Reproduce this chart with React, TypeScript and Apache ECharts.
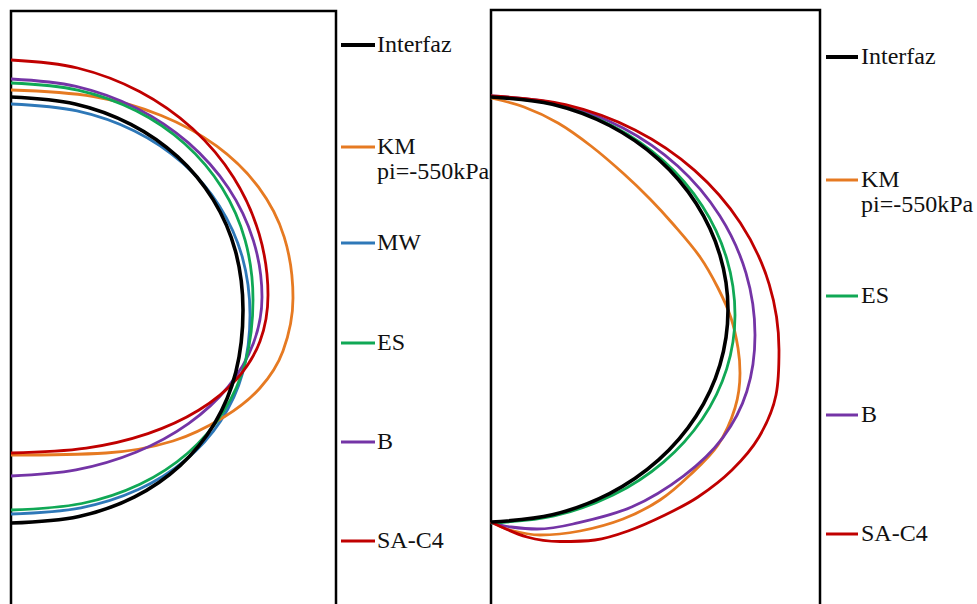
import React, { useEffect, useRef } from "react";
import * as echarts from "echarts";

// ---------- DATA (x to the right, y downward; arbitrary length units) ----------
// Left panel
const leftInterfaz = [[0,8.6],[6.41,9.29],[11.99,11.33],[16.68,14.59],[20.23,18.89],[22.45,24.02],[23.2,29.9],[22.48,36.13],[20.36,41.24],[16.93,45.44],[12.36,48.59],[6.79,50.54],[0,51.2]];
const leftKM = [[0,7.9],[8.25,8.55],[15.02,10.45],[20.58,13.52],[24.75,17.62],[27.32,22.61],[28.2,28.7],[27.2,34.0],[24.9,37.7],[21.3,40.6],[16.2,43.0],[9.5,44.2],[0,44.4]];
const leftMW = [[0,9.3],[6.6,9.99],[12.35,12.0],[17.18,15.23],[20.84,19.49],[23.12,24.57],[23.9,30.4],[23.16,36.22],[20.97,41.0],[17.44,44.92],[12.73,47.86],[7.0,49.68],[0,50.3]];
const leftES = [[0,7.2],[6.68,7.91],[12.51,9.98],[17.4,13.3],[21.1,17.68],[23.41,22.91],[24.2,28.9],[23.45,35.05],[21.24,40.08],[17.66,44.23],[12.89,47.33],[7.08,49.25],[0,49.9]];
const leftB = [[0,6.8],[6.5,7.54],[12.55,9.72],[17.75,13.19],[21.74,17.7],[24.24,22.96],[25.1,28.6],[24.24,33.23],[21.74,37.55],[17.75,41.26],[12.55,44.1],[6.5,45.89],[0,46.5]];
const leftSAC4 = [[0,4.9],[6.65,5.7],[12.85,8.05],[18.17,11.78],[22.26,16.65],[24.82,22.32],[25.7,28.4],[24.9,33.02],[22.55,36.82],[18.76,39.93],[13.69,42.26],[7.52,43.71],[0,44.2]];

// Right panel
const rightInterfaz = [[0,8.7],[6.13,9.43],[11.85,11.55],[16.76,14.94],[20.52,19.35],[22.89,24.49],[23.7,30.0],[22.89,35.49],[20.52,40.6],[16.76,44.99],[11.85,48.36],[6.13,50.48],[0,51.2]];
const rightKM = [[0,8.8],[3.3,9.7],[6.7,11.3],[10.0,13.6],[13.3,16.4],[15.9,18.9],[18.2,21.4],[20.9,24.7],[22.7,27.8],[24.0,30.8],[24.7,33.8],[24.9,36.3],[24.4,39.8],[22.7,43.5],[19.9,46.5],[16.9,49.0],[13.2,50.9],[8.9,52.1],[4.9,52.5],[1.9,52.0],[0,51.2]];
const rightES = [[0,8.7],[6.31,9.44],[12.2,11.62],[17.25,15.09],[21.13,19.6],[23.57,24.86],[24.4,30.5],[23.57,35.88],[21.13,40.9],[17.25,45.21],[12.2,48.51],[6.31,50.59],[0,51.3]];
const rightB = [[0,8.6],[6.83,9.41],[13.2,11.8],[18.67,15.6],[22.86,20.55],[25.5,26.31],[26.4,32.5],[25.58,38.15],[23.17,42.78],[19.27,46.58],[14.06,49.7],[8.2,51.4],[4.6,51.9],[2.0,51.7],[0,51.3]];
const rightSAC4 = [[0,8.6],[7.45,9.47],[14.4,12.0],[20.36,16.04],[24.94,21.3],[27.82,27.43],[28.8,34.0],[28.5,38.5],[26.8,42.7],[24.1,46.0],[20.7,48.7],[17.4,50.5],[13.7,52.1],[10.4,53.0],[6.9,53.15],[3.6,52.7],[0,51.2]];

const seriesNames = ["Interfaz", "KM pi=-550kPa", "MW", "ES", "B", "SA-C4"];
const leftLegendLabels = ["Interfaz", "KM\npi=-550kPa", "MW", "ES", "B", "SA-C4"];
const rightLegendLabels = ["Interfaz", "KM\npi=-550kPa", "ES", "B", "SA-C4"];

// ---------- STYLES ----------
const COLORS: Record<string, string> = {
  "Interfaz": "#000000",
  "KM pi=-550kPa": "#E67A22",
  "MW": "#2E78B8",
  "ES": "#10A855",
  "B": "#7434A6",
  "SA-C4": "#C00000",
};

export default function App() {
  const ref = useRef<HTMLDivElement>(null);
  useEffect(() => {
    if (!ref.current) return;
    const chart = echarts.init(ref.current, undefined, { renderer: "svg" });

    const leftData: Record<string, number[][]> = {
      "Interfaz": leftInterfaz, "KM pi=-550kPa": leftKM, "MW": leftMW, "ES": leftES, "B": leftB, "SA-C4": leftSAC4,
    };
    const rightData: Record<string, number[][]> = {
      "Interfaz": rightInterfaz, "KM pi=-550kPa": rightKM, "ES": rightES, "B": rightB, "SA-C4": rightSAC4,
    };
    const drawOrder = ["MW", "KM pi=-550kPa", "B", "ES", "SA-C4", "Interfaz"];

    const mk = (name: string, data: number[][], idx: number) => ({
      type: "line",
      name,
      xAxisIndex: idx,
      yAxisIndex: idx,
      data,
      smooth: 0.34,
      symbol: "none",
      silent: true,
      lineStyle: { color: COLORS[name], width: name === "Interfaz" ? 3.6 : 2.8 },
      z: name === "Interfaz" ? 3 : 2,
    });

    const series: any[] = [];
    drawOrder.forEach((n) => { if (leftData[n]) series.push(mk(n, leftData[n], 0)); });
    drawOrder.forEach((n) => { if (rightData[n]) series.push(mk(n, rightData[n], 1)); });

    const legendKeys = (labels: string[]) =>
      labels.map((l) => seriesNames.find((s) => s.replace(" ", "\n") === l || s === l) as string);

    const buildLegend = (labels: string[], ys: number[], x1: number, x2: number, tx: number) => {
      const keys = legendKeys(labels);
      const els: any[] = [];
      labels.forEach((lab, i) => {
        const key = keys[i];
        els.push({
          type: "line",
          shape: { x1, y1: ys[i], x2, y2: ys[i] },
          style: { stroke: COLORS[key], lineWidth: key === "Interfaz" ? 4 : 3 },
          silent: true,
        });
        els.push({
          type: "text",
          x: tx,
          y: ys[i] - 14,
          style: {
            text: lab,
            fontFamily: "Liberation Serif",
            fontSize: 24,
            fill: "#111",
            align: "left",
            verticalAlign: "top",
            lineHeight: 25,
          },
          silent: true,
        });
      });
      return els;
    };

    const graphic = [
      ...buildLegend(leftLegendLabels, [45, 147, 243, 343, 442, 541], 341, 375, 377),
      ...buildLegend(rightLegendLabels, [57, 180, 296, 415, 534], 826, 858, 861),
    ];

    chart.setOption({
      animation: false,
      backgroundColor: "#ffffff",
      grid: [
        { left: 11, top: 11, width: 325, height: 650, show: true, borderColor: "#000", borderWidth: 2.5, backgroundColor: "transparent", containLabel: false },
        { left: 491, top: 10, width: 329, height: 650, show: true, borderColor: "#000", borderWidth: 2.5, backgroundColor: "transparent", containLabel: false },
      ],
      xAxis: [
        { type: "value", gridIndex: 0, min: 0, max: 32.5, show: false },
        { type: "value", gridIndex: 1, min: 0, max: 32.9, show: false },
      ],
      yAxis: [
        { type: "value", gridIndex: 0, min: 0, max: 65, inverse: true, show: false },
        { type: "value", gridIndex: 1, min: 0, max: 65, inverse: true, show: false },
      ],
      series,
      graphic,
    });

    return () => chart.dispose();
  }, []);

  return <div ref={ref} style={{ position: "fixed", left: 0, top: 0, width: 977, height: 680 }} />;
}
